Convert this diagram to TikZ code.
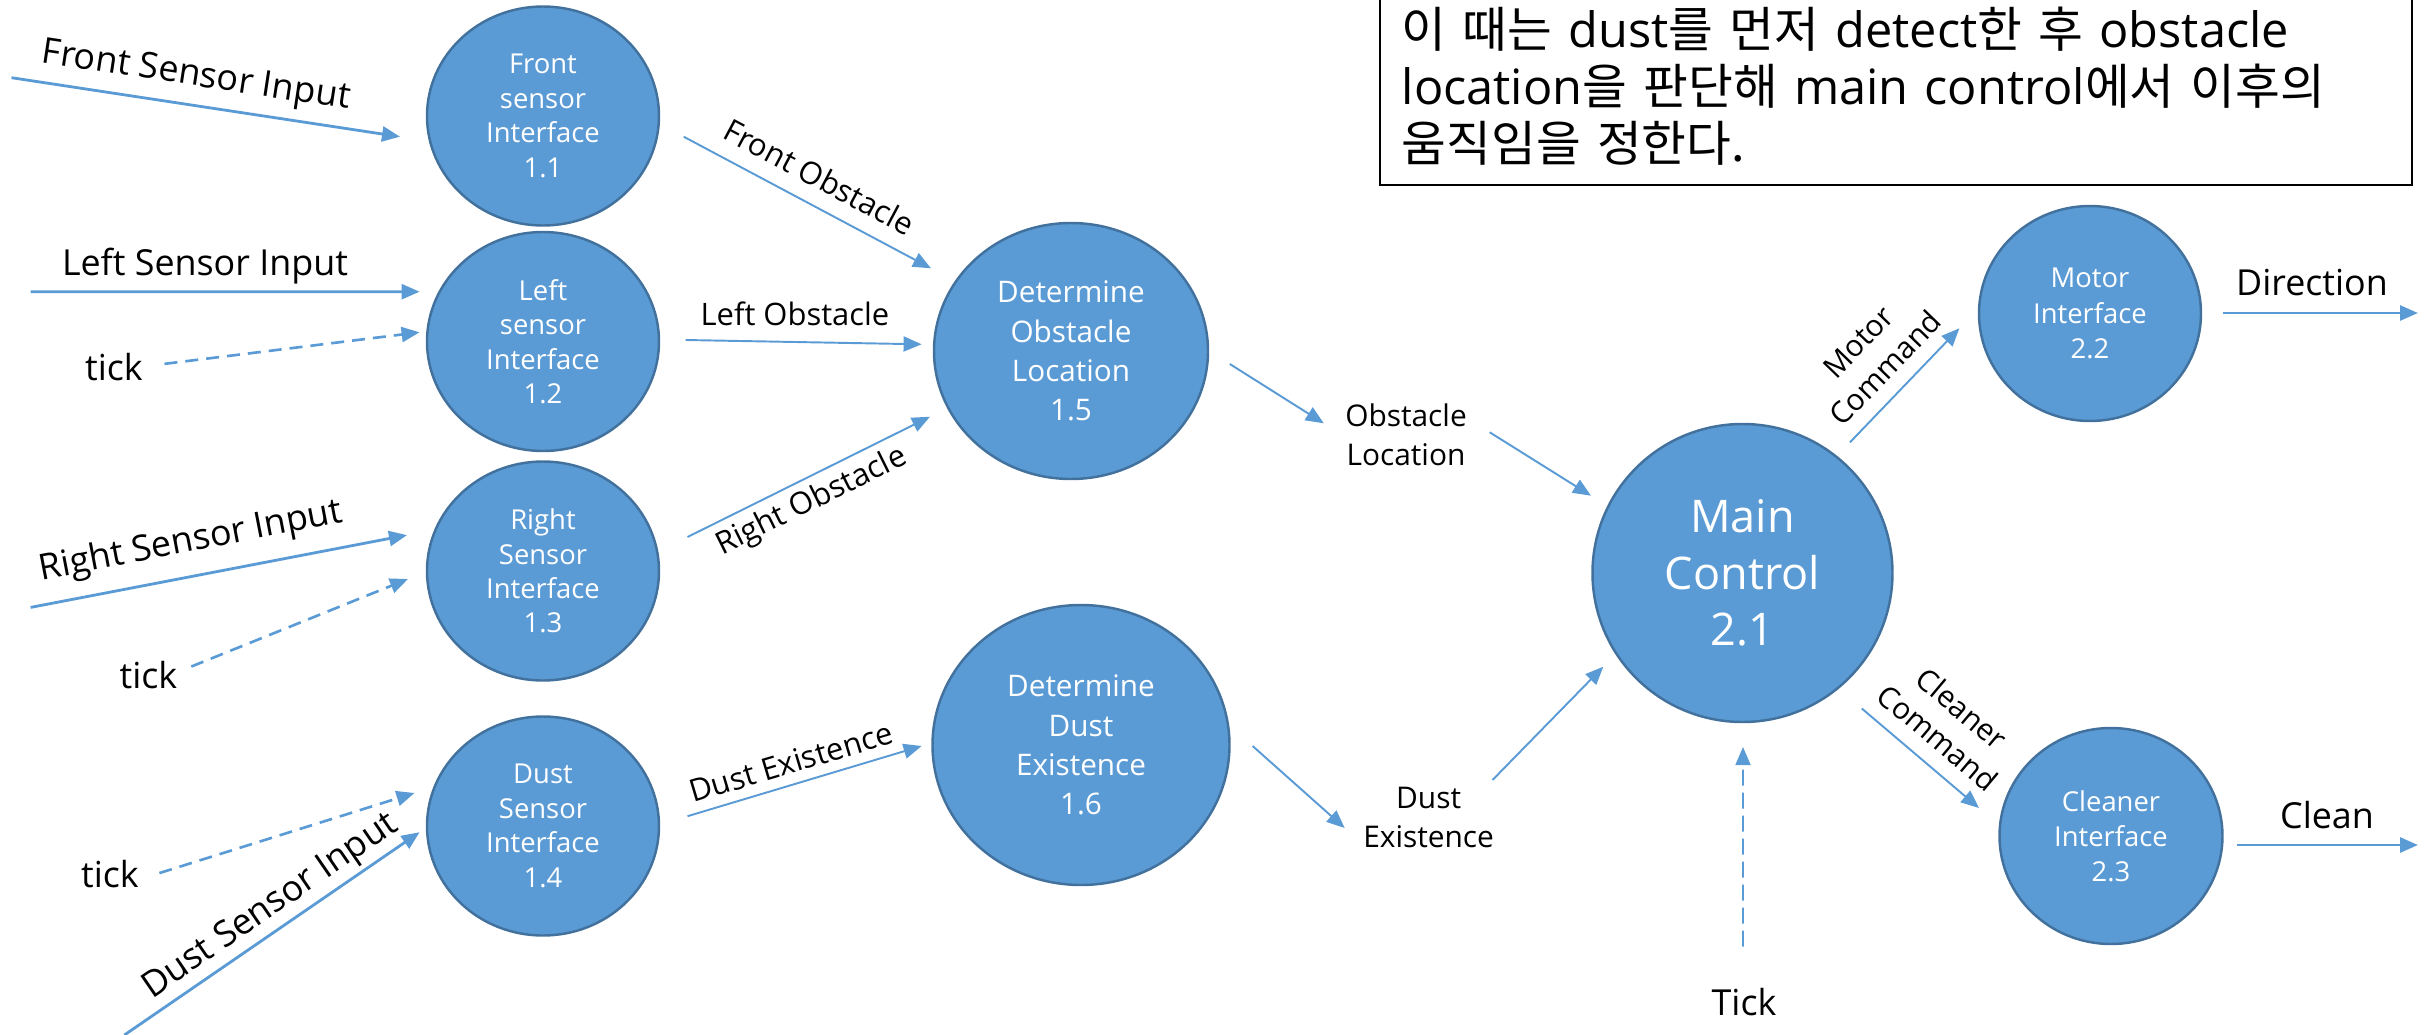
\documentclass[tikz,border=0pt]{standalone}
\usepackage{fontspec}
\setmainfont{Open Sans}
\newfontfamily\krfont{Noto Sans CJK KR}
\usetikzlibrary{shapes.geometric,arrows.meta,calc}
\definecolor{procfill}{HTML}{5B9BD5}
\definecolor{procedge}{HTML}{41719C}
\definecolor{flowblue}{HTML}{5B9BD5}
\newcommand\setfs[2]{\fontsize{#1}{#2}\selectfont}

\begin{document}
\begin{tikzpicture}[x=0.1mm,y=-0.1mm,
  proc/.style={ellipse, draw=procedge, fill=procfill, line width=0.7pt,
    text=white, inner sep=0pt, align=center},
  iface/.style={proc, font=\setfs{7.8}{9.8}, minimum width=23.2mm, minimum height=21.9mm},
  detproc/.style={proc, font=\setfs{8.45}{11.2}},
  flow/.style={draw=flowblue, line width=0.55pt, -{Triangle[length=1.8mm,width=1.5mm]}},
  inflow/.style={flow, line width=0.8pt},
  tickflow/.style={flow, line width=0.75pt, dash pattern=on 1.3mm off 0.8mm},
  clockflow/.style={flow, line width=0.5pt, dash pattern=on 1.6mm off 0.7mm},
  biglab/.style={text=black, inner sep=0pt, font=\setfs{10.2}{12}},
  midlab/.style={text=black, inner sep=0pt, font=\setfs{8.8}{11}},
  pairlab/.style={text=black, inner sep=0pt, align=center, font=\setfs{8.5}{11.2}}
]
\useasboundingbox (0,0) rectangle (2430,1035);

% ---- note box ----
\node[draw=black, line width=0.7pt, anchor=north west, inner sep=0pt,
      minimum width=103.25mm, minimum height=18.9mm] (note) at (1378.5,-5) {};
\node[anchor=base west, inner sep=0pt, text width=101mm, align=left,
      font=\setfs{13.85}{16.36}] (notetext) at (1401,47)
  {{\krfont 이 때는} dust{\krfont 를 먼저} detect{\krfont 한 후} obstacle\\
   location{\krfont 을 판단해} main control{\krfont 에서 이후의}\\
   {\krfont 움직임을 정한다.}};

% ---- processes ----
\node[iface] (n11) at (543,116) {Front\\sensor\\Interface\\1.1};
\node[iface] (n12) at (543,341.5) {Left\\sensor\\Interface\\1.2};
\node[iface] (n13) at (543,571) {Right\\Sensor\\Interface\\1.3};
\node[iface] (n14) at (543,826) {Dust\\Sensor\\Interface\\1.4};
\node[detproc, minimum width=27.4mm, minimum height=25.6mm] (n15) at (1071,351)
  {Determine\\Obstacle\\Location\\1.5};
\node[detproc, minimum width=29.7mm, minimum height=28mm] (n16) at (1081,745)
  {Determine\\Dust\\Existence\\1.6};
\node[proc, font=\setfs{12.8}{16.1}, minimum width=30mm, minimum height=29.8mm] (n21)
  at (1742.5,573) {Main\\Control\\2.1};
\node[proc, font=\setfs{7.8}{10}, minimum width=22.2mm, minimum height=21.5mm] (n22)
  at (2090,313.5) {Motor\\Interface\\2.2};
\node[proc, font=\setfs{7.8}{10}, minimum width=22.3mm, minimum height=21.6mm] (n23)
  at (2111,836) {Cleaner\\Interface\\2.3};

% ---- free ends ----
\coordinate (fsiIn) at (11.5,77.7);
\coordinate (lsiIn) at (30.6,291.7);
\coordinate (rsiIn) at (30.6,607.4);
\coordinate (dsiIn) at (124.4,1035);
\coordinate (dirOut) at (2418,313);
\coordinate (cleanOut) at (2418,845);

% ---- sensor inputs ----
\draw[inflow] (fsiIn) -- ($(n11)+(-143,20.7)$);
\node[biglab, rotate=-8.6] (lfsi) at (196,77) {Front Sensor Input};

\draw[inflow] (lsiIn) -- ($(n12)+(-123.4,-49.8)$);
\node[biglab, anchor=base] (llsi) at (205,275) {Left Sensor Input};

\node[biglab, anchor=base] (tick1) at (114,380) {tick};
\draw[tickflow] ($(tick1)+(50.5,-2.7)$) -- ($(n12)+(-123.4,-9.2)$);

\draw[inflow] (rsiIn) -- ($(n13)+(-136,-35.9)$);
\node[biglab, rotate=10.9] (lrsi) at (191,542) {Right Sensor Input};

\node[biglab, anchor=base] (tick2) at (148.5,688) {tick};
\draw[tickflow] ($(tick2)+(42.8,-8)$) -- ($(n13)+(-135,8)$);

\node[biglab, anchor=base] (tick3) at (110,887) {tick};
\draw[tickflow] ($(tick3)+(49.4,-0.5)$) -- ($(n14)+(-128.5,-33)$);

\draw[inflow] (dsiIn) -- ($(n14)+(-123.4,6.2)$);
\node[biglab, rotate=34.5] (ldsi) at (271,907) {Dust Sensor Input};

% ---- interfaces to determination ----
\draw[flow] ($(n11)+(140.7,20.7)$) -- ($(n15)+(-140,-82.7)$);
\node[midlab, rotate=-28] (lfo) at (819.5,176.7) {Front Obstacle};

\draw[flow] ($(n12)+(142.6,-1.5)$) -- ($(n15)+(-149.4,-6.7)$);
\node[midlab, anchor=base] (llo) at (795,325) {Left Obstacle};

\draw[flow] ($(n13)+(144.5,-34)$) -- ($(n15)+(-141,65.7)$);
\node[midlab, rotate=26.4] (lro) at (812,502) {Right Obstacle};

\draw[flow] ($(n14)+(144.5,-9.8)$) -- ($(n16)+(-159.4,1)$);
\node[midlab, rotate=16.7] (lde) at (791,762) {Dust Existence};

% ---- into main control ----
\node[pairlab] (obsloc) at (1406,435) {Obstacle\\Location};
\draw[flow] ($(n15)+(158.8,13)$) -- ($(obsloc)+(-82.2,-11.7)$);
\draw[flow] ($(obsloc)+(83.7,-2.7)$) -- ($(n21)+(-151.5,-77.3)$);

\node[pairlab, font=\setfs{8.5}{11.1}] (dustex) at (1428.6,817) {Dust\\Existence};
\draw[flow] ($(n16)+(171.6,1)$) -- ($(dustex)+(-83.9,11)$);
\draw[flow] ($(dustex)+(63.9,-37)$) -- ($(n21)+(-139.2,93.7)$);

\node[biglab, anchor=base] (tick4) at (1744,1015.4) {Tick};
\draw[clockflow] ($(tick4)+(-1,-55.4)$) -- ($(n21)+(0.5,174)$);

% ---- out of main control ----
\draw[flow] ($(n21)+(107.5,-130.7)$) -- ($(n22)+(-130.6,14.8)$);
\node[pairlab, font=\setfs{8.5}{10.7}, rotate=46] (lmc) at (1872,355) {Motor\\Command};

\draw[flow] ($(n21)+(119.3,135.5)$) -- ($(n23)+(-132,-28)$);
\node[pairlab, font=\setfs{8.5}{10.7}, rotate=-40] (lcc) at (1950,723) {Cleaner\\Command};

\draw[inflow] ($(n22)+(132.7,-0.5)$) -- (dirOut);
\node[biglab, anchor=base] (ldir) at (2312,295) {Direction};

\draw[inflow] ($(n23)+(125.7,9)$) -- (cleanOut);
\node[biglab, anchor=base] (lclean) at (2327,828) {Clean};
\end{tikzpicture}
\end{document}
